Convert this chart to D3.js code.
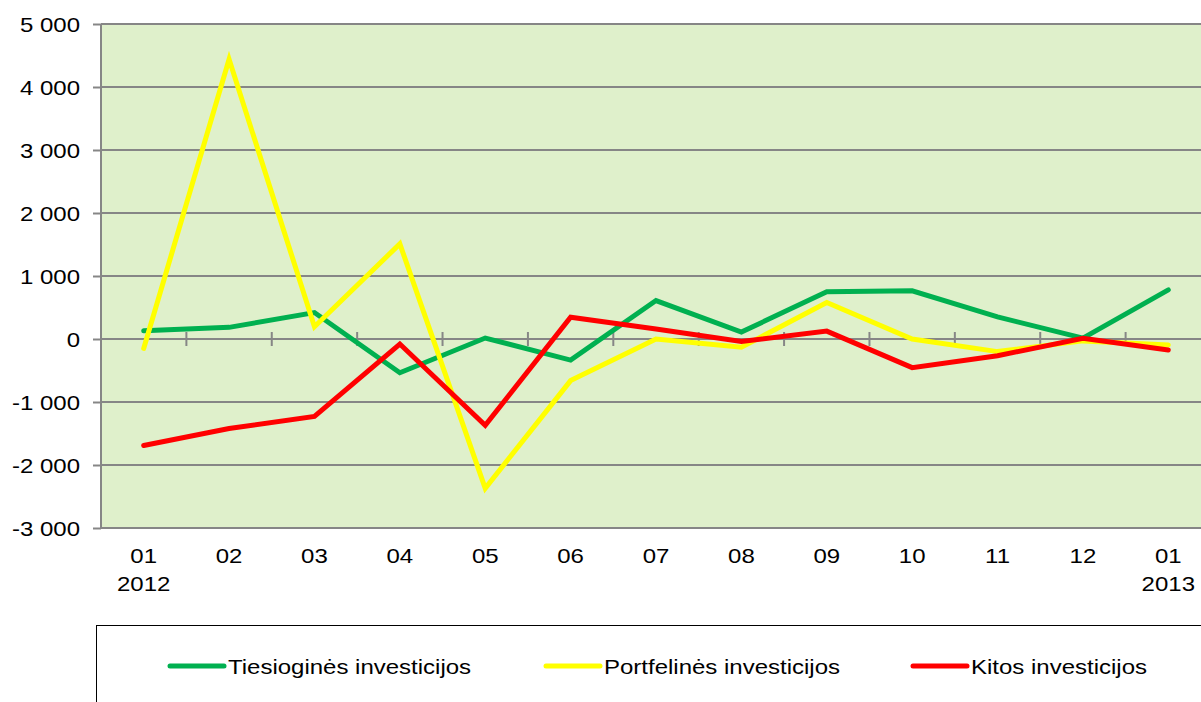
<!DOCTYPE html>
<html>
<meta charset="utf-8">
<style>
    body { margin: 0; background: #fff; }
    svg { display: block; }
    text { font-family: 'Liberation Sans', Arial, sans-serif; fill: #000; }
</style>
<body>
<svg width="1201" height="702"></svg>

<script src="https://d3js.org/d3.v7.min.js"></script>
<script>
    // months (top line) and year (second line)
    let months = ["01", "02", "03", "04", "05", "06", "07", "08", "09", "10", "11", "12", "01"];
    let years  = ["2012", "", "", "", "", "", "", "", "", "", "", "", "2013"];

    let tiesiogines = [130, 185, 420, -535, 15, -335, 610, 110, 750, 765, 350, 15, 780];
    let portfelines = [-150, 4440, 195, 1510, -2370, -660, 0, -130, 580, 0, -200, -30, -95];
    let kitos       = [-1690, -1420, -1230, -80, -1370, 345, 160, -40, 125, -455, -265, 10, -175];

    let seriesNames = ["Tiesioginės investicijos", "Portfelinės investicijos", "Kitos investicijos"];
    let yTicks = [-3000, -2000, -1000, 0, 1000, 2000, 3000, 4000, 5000];

    let colors = ["#00b050", "#ffff00", "#ff0000"];
    let series = [tiesiogines, portfelines, kitos];

    // the original picture is stretched sideways a bit
    let stretch = 1.2;

    let svg = d3.select("svg");

    let plotLeft = 101, plotRight = 1211, plotTop = 24, plotBottom = 528;

    let xScale = d3.scaleBand()
        .domain(d3.range(months.length))
        .range([plotLeft, plotRight]);

    let yScale = d3.scaleLinear()
        .domain([-3000, 5000])
        .range([plotBottom, plotTop]);

    // plot background
    svg.append("rect")
        .attr("x", plotLeft).attr("y", plotTop)
        .attr("width", plotRight - plotLeft).attr("height", plotBottom - plotTop)
        .style("fill", "#dff0cb");

    // gridlines + left ticks
    let fmt = v => d3.format(",")(v).replace(/,/g, " ").replace("−", "-");
    let yAxis = svg.append("g")
        .attr("transform", "translate(" + plotLeft + ",0)")
        .call(d3.axisLeft(yScale).tickValues(yTicks).tickSize(8).tickFormat(fmt));
    yAxis.select(".domain").remove();
    yAxis.selectAll(".tick line").style("stroke", "#868686").style("stroke-width", 2);
    yAxis.selectAll(".tick text")
        .attr("x", 0).attr("dy", null).attr("y", 7)
        .attr("transform", "translate(-21,0) scale(" + stretch + ",1)")
        .style("font-size", "20px")
        .style("font-family", "'Liberation Sans', Arial, sans-serif");

    svg.append("g").selectAll("line")
        .data(yTicks)
        .join("line")
        .attr("x1", plotLeft).attr("x2", plotRight)
        .attr("y1", d => yScale(d)).attr("y2", d => yScale(d))
        .style("stroke", "#868686").style("stroke-width", 2);

    // vertical axis line
    svg.append("line")
        .attr("x1", plotLeft).attr("x2", plotLeft)
        .attr("y1", plotTop).attr("y2", plotBottom)
        .style("stroke", "#868686").style("stroke-width", 2);

    // category ticks crossing the zero line
    svg.append("g").selectAll("line")
        .data(d3.range(1, months.length))
        .join("line")
        .attr("x1", d => xScale(d)).attr("x2", d => xScale(d))
        .attr("y1", yScale(0) - 7).attr("y2", yScale(0) + 7)
        .style("stroke", "#868686").style("stroke-width", 2);

    // x labels
    let xLab = svg.append("g").selectAll("text")
        .data(d3.range(months.length))
        .join("text")
        .attr("text-anchor", "middle")
        .attr("transform", d => "translate(" + (xScale(d) + xScale.bandwidth() / 2) + ",0) scale(" + stretch + ",1)")
        .style("font-size", "20px");
    xLab.append("tspan")
        .attr("x", 0).attr("y", 563)
        .text(d => months[d]);
    xLab.append("tspan")
        .attr("x", 0).attr("y", 591)
        .text(d => years[d]);

    // lines
    let lineGenerator = d3.line()
        .x((d, i) => xScale(i) + xScale.bandwidth() / 2)
        .y(d => yScale(d));

    svg.append("g").selectAll("path")
        .data(series)
        .join("path")
        .attr("d", d => lineGenerator(d))
        .style("fill", "none")
        .style("stroke", (d, i) => colors[i])
        .style("stroke-width", 5)
        .style("stroke-linecap", "round")
        .style("stroke-linejoin", "miter");

    // legend
    svg.append("rect")
        .attr("x", 96.5).attr("y", 625.5)
        .attr("width", 1200).attr("height", 100)
        .style("fill", "#fff").style("stroke", "#000").style("stroke-width", 1);

    let legendX = [170, 546, 913];
    let legend = svg.append("g").selectAll("g")
        .data(seriesNames)
        .join("g")
        .attr("transform", (d, i) => "translate(" + legendX[i] + ",666)");
    legend.append("line")
        .attr("x1", 0).attr("x2", 54)
        .style("stroke", (d, i) => colors[i])
        .style("stroke-width", 5)
        .style("stroke-linecap", "round");
    legend.append("text")
        .attr("transform", "translate(58,8) scale(" + stretch + ",1)")
        .style("font-size", "20px")
        .text(d => d);
</script>
</body>
</html>
